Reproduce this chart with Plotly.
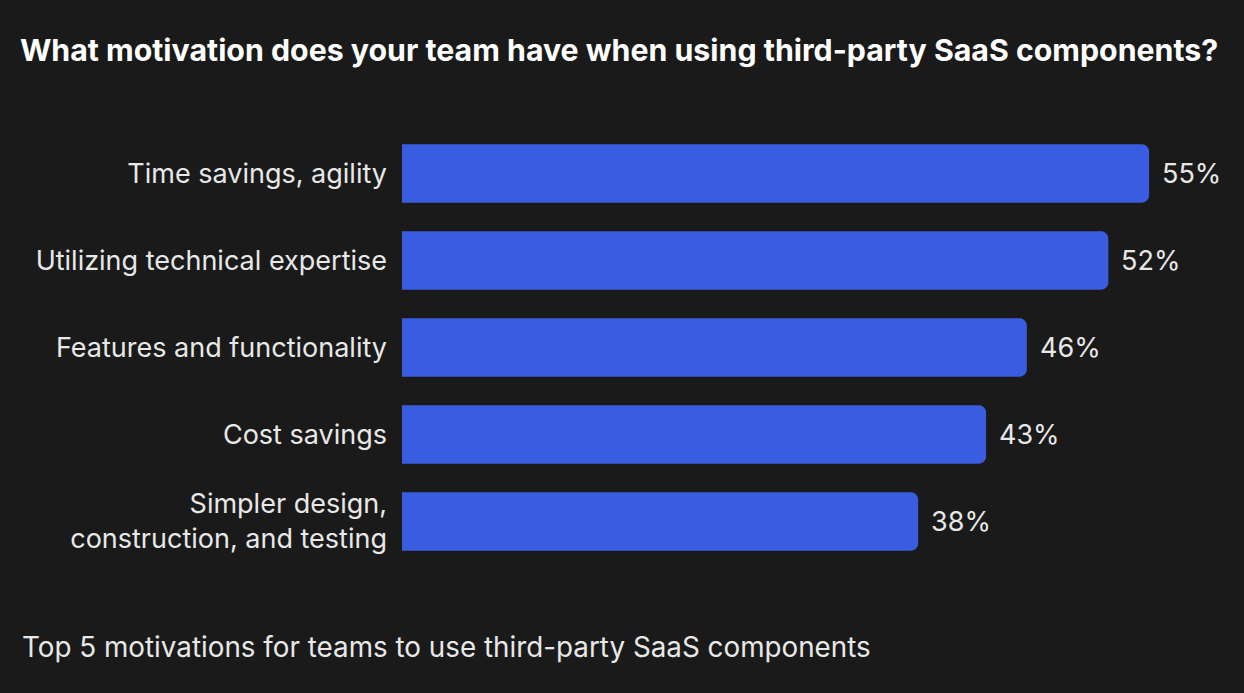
import plotly.graph_objects as go

categories = [
    "Time savings, agility",
    "Utilizing technical expertise",
    "Features and functionality",
    "Cost savings",
    "Simpler design,<br>construction, and testing",
]
values = [55, 52, 46, 43, 38]
value_labels = ["55%", "52%", "46%", "43%", "38%"]

title_text = "What motivation does your team have when using third-party SaaS components?"
footnote = "Top 5 motivations for teams to use third-party SaaS components"

BG = "#1a1a1a"
BAR = "#3a5ce0"
TXT = "#e8e8e8"
FONT = "Inter, sans-serif"

W, H = 1244, 693
ML, MR, MT, MB = 402, 27, 130, 128
PW, PH = W - ML - MR, H - MT - MB

fig = go.Figure(go.Bar(
    x=values,
    y=categories,
    orientation="h",
    marker=dict(color=BAR, line=dict(width=0)),
    width=0.67,
    hoverinfo="x+y",
))

# value labels just right of each bar end
annotations = [
    dict(x=v, y=c, text=t, xref="x", yref="y",
         xanchor="left", yanchor="middle", xshift=11, showarrow=False,
         font=dict(family=FONT, size=27, color=TXT))
    for c, v, t in zip(categories, values, value_labels)
]
annotations.append(dict(
    text=footnote,
    xref="paper", yref="paper",
    x=(20 - ML) / PW, y=(H - MB - 647) / PH,
    xanchor="left", yanchor="middle",
    showarrow=False,
    font=dict(family=FONT, size=27.8, color=TXT),
))

fig.update_layout(
    width=W,
    height=H,
    paper_bgcolor=BG,
    plot_bgcolor=BG,
    barcornerradius=7,
    showlegend=False,
    margin=dict(l=ML, r=MR, t=MT, b=MB),
    font=dict(family=FONT, color=TXT, size=27),
    title=dict(
        text="<b>" + title_text + "</b>",
        x=0.016, xref="container", xanchor="left",
        y=0.928, yref="container", yanchor="middle",
        font=dict(family=FONT, size=30.3, color="#ffffff"),
    ),
    xaxis=dict(range=[0, 60], visible=False, fixedrange=True),
    yaxis=dict(
        autorange="reversed",
        showgrid=False, zeroline=False, showline=False,
        ticks="", ticklabelstandoff=14,
        tickfont=dict(family=FONT, size=27, color=TXT),
        fixedrange=True,
    ),
    annotations=annotations,
)

fig.write_html(
    "out.html",
    config={"displayModeBar": False},
    post_script="document.body.style.margin='0';",
)
